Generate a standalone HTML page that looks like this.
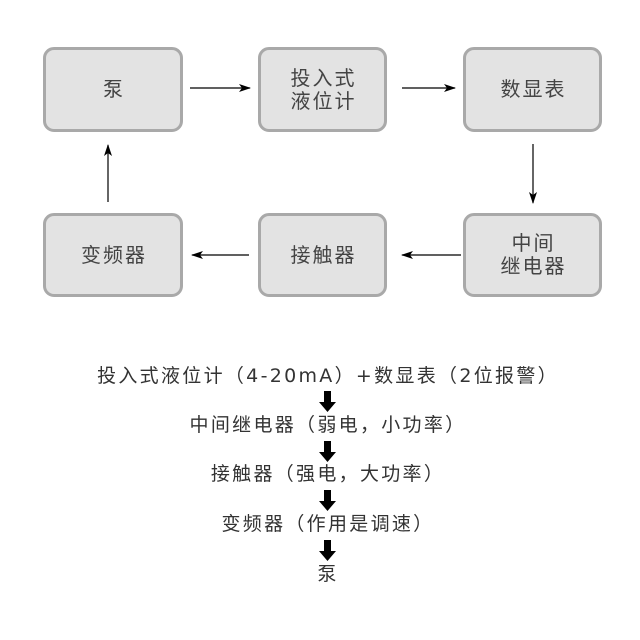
<!DOCTYPE html>
<html><head><meta charset="utf-8"><style>
body{margin:0;width:640px;height:640px;background:#fff;position:relative;font-family:"DejaVu Sans","Noto Sans CJK SC",sans-serif;overflow:hidden}
.b{position:absolute;box-sizing:border-box;border:3px solid #a9a9a9;background:#e3e3e3;border-radius:11px;display:flex;align-items:center;justify-content:center;text-align:center;color:#444;font-size:20px;line-height:23px;letter-spacing:2px;padding-left:2px}
.t{position:absolute;left:0;width:656px;text-align:center;font-size:19px;color:#333;line-height:24px;letter-spacing:2.3px}
</style></head><body>
<div class="b" style="left:43px;top:47px;width:140px;height:85px">泵</div>
<div class="b" style="left:258px;top:47px;width:129px;height:85px">投入式<br>液位计</div>
<div class="b" style="left:463px;top:47px;width:139px;height:85px">数显表</div>
<div class="b" style="left:43px;top:213px;width:140px;height:84px">变频器</div>
<div class="b" style="left:258px;top:213px;width:129px;height:84px">接触器</div>
<div class="b" style="left:463px;top:213px;width:139px;height:84px">中间<br>继电器</div>
<svg width="640" height="640" style="position:absolute;left:0;top:0">
<defs><marker id="a" markerWidth="12" markerHeight="8" refX="11" refY="4" orient="auto" markerUnits="userSpaceOnUse"><path d="M0,0 L12,4 L0,8 L3,4z" fill="#000"/></marker></defs>
<g stroke="#000" stroke-width="1.2" fill="none">
<line x1="190" y1="88" x2="250" y2="88" marker-end="url(#a)"/>
<line x1="402" y1="88" x2="455" y2="88" marker-end="url(#a)"/>
<line x1="533" y1="144" x2="533" y2="203" marker-end="url(#a)"/>
<line x1="461" y1="255" x2="402" y2="255" marker-end="url(#a)"/>
<line x1="249" y1="255" x2="192" y2="255" marker-end="url(#a)"/>
<line x1="108" y1="202" x2="108" y2="145" marker-end="url(#a)"/>
</g>
<g fill="#000">
<path d="M324,391h7v11h5l-8.5,10l-8.5,-10h5z"/>
<path d="M324,441h7v11h5l-8.5,10l-8.5,-10h5z"/>
<path d="M324,490h7v11h5l-8.5,10l-8.5,-10h5z"/>
<path d="M324,540h7v11h5l-8.5,10l-8.5,-10h5z"/>
</g>
</svg>
<div class="t" style="top:364px">投入式液位计（4-20mA）+数显表（2位报警）</div>
<div class="t" style="top:413px">中间继电器（弱电，小功率）</div>
<div class="t" style="top:462px">接触器（强电，大功率）</div>
<div class="t" style="top:512px">变频器（作用是调速）</div>
<div class="t" style="top:562px">泵</div>
</body></html>
